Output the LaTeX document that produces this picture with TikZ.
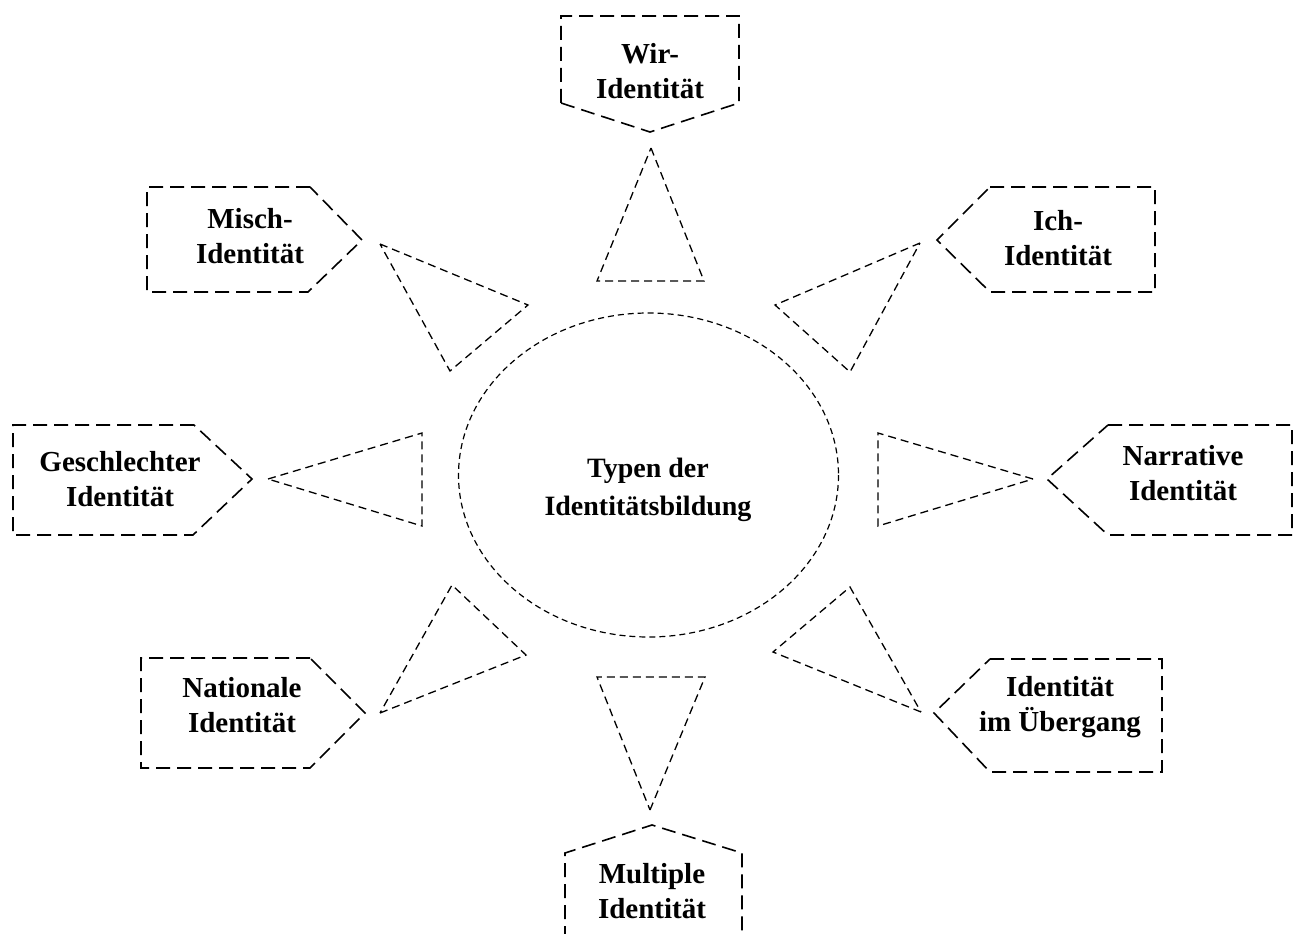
\documentclass[tikz,border=0pt]{standalone}
\usepackage{fontspec}
\setmainfont{Liberation Serif}
\begin{document}
\begin{tikzpicture}[x=1pt,y=-1pt,
  boxline/.style={line width=1.6pt,dash pattern=on 14pt off 7pt,line join=miter},
  triline/.style={line width=1.3pt,dash pattern=on 8pt off 5pt},
  ringline/.style={line width=1.2pt,dash pattern=on 6pt off 4pt},
  lbl/.style={align=center,font=\bfseries\fontsize{29}{35}\selectfont,inner sep=0pt},
  ctr/.style={align=center,font=\bfseries\fontsize{28}{38}\selectfont,inner sep=0pt}]
\useasboundingbox (0,0) rectangle (1294,934);
% central ellipse
\draw[ringline] (648.5,475) ellipse [x radius=190, y radius=162];
\node[ctr] (center) at (648,490) {Typen der\\Identitätsbildung};
% Wir (top)
\draw[boxline] (561,103) -- (561,16) -- (739,16) -- (739,103) -- (650,132) -- cycle;
\draw[triline] (651,148) -- (704,281) -- (597,281) -- cycle;
\node[lbl] (wir) at (650,71) {Wir-\\Identität};
% Misch (upper left)
\draw[boxline] (310,187) -- (147,187) -- (147,292) -- (308,292) -- (362,240) -- cycle;
\draw[triline] (380,244) -- (528,305) -- (450,371) -- cycle;
\node[lbl] (misch) at (250,236) {Misch-\\Identität};
% Ich (upper right)
\draw[boxline] (990,187) -- (1155,187) -- (1155,292) -- (990,292) -- (937,240) -- cycle;
\draw[triline] (920,243) -- (775,305) -- (850,372) -- cycle;
\node[lbl] (ich) at (1058,238) {Ich-\\Identität};
% Geschlechter (left)
\draw[boxline] (194,425) -- (13,425) -- (13,535) -- (193,535) -- (252,479) -- cycle;
\draw[triline] (268,479) -- (422,433) -- (422,526) -- cycle;
\node[lbl] (geschl) at (120,479) {Geschlechter\\Identität};
% Narrative (right)
\draw[boxline] (1108,425) -- (1292,425) -- (1292,535) -- (1108,535) -- (1047,479) -- cycle;
\draw[triline] (1033,479) -- (878,433) -- (878,526) -- cycle;
\node[lbl] (narr) at (1183,473) {Narrative\\Identität};
% Nationale (lower left)
\draw[boxline] (310,658) -- (141,658) -- (141,768) -- (310,768) -- (365,713) -- cycle;
\draw[triline] (380,713) -- (526,655) -- (452,585) -- cycle;
\node[lbl] (nat) at (242,705) {Nationale\\Identität};
% Übergang (lower right)
\draw[boxline] (990,659) -- (1162,659) -- (1162,772) -- (990,772) -- (934,713) -- cycle;
\draw[triline] (921,712) -- (773,652) -- (850,587) -- cycle;
\node[lbl] (ueb) at (1060,707) {Identität\\im Übergang};
% Multiple (bottom)
\draw[boxline] (565,940) -- (565,853) -- (652,825) -- (742,853) -- (742,940);
\draw[triline] (650,810) -- (705,677) -- (597,677) -- cycle;
\node[lbl] (mult) at (652,891) {Multiple\\Identität};
\end{tikzpicture}
\end{document}
